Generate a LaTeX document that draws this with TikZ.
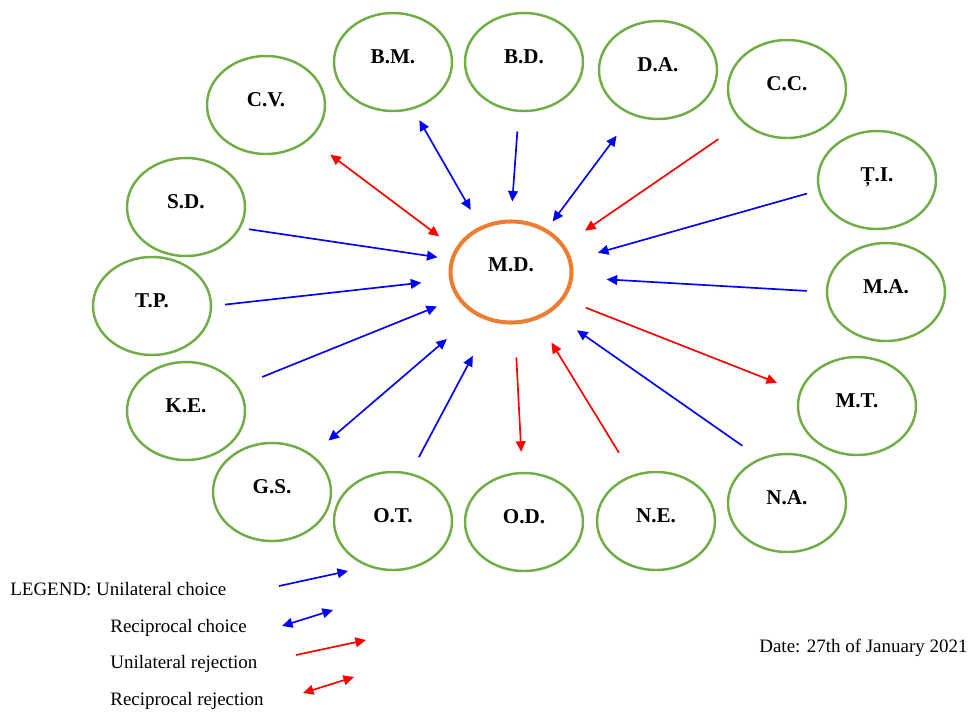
\documentclass[tikz,border=0pt]{standalone}
\usepackage{fontspec}
\setmainfont{Liberation Serif}
\usetikzlibrary{shapes.geometric, arrows.meta}
\definecolor{ringgreen}{RGB}{112,173,71}
\definecolor{ringorange}{RGB}{237,125,49}

\begin{document}
\begin{tikzpicture}[
		>={Triangle[length=6pt,width=5.5pt]},
		person/.style={ellipse, draw=ringgreen, line width=1.4pt, minimum width=2.36cm, minimum height=1.96cm, text depth=2.2mm, font=\fontsize{12}{14}\selectfont\bfseries},
		focus/.style={ellipse, draw=ringorange, line width=2.3pt, minimum width=2.42cm, minimum height=2.02cm, text depth=2.8mm, font=\fontsize{12}{14}\selectfont\bfseries},
		uchoice/.style={->, blue, line width=0.95pt},
		rchoice/.style={<->, blue, line width=0.95pt},
		urejection/.style={->, red, line width=0.95pt},
		rrejection/.style={<->, red, line width=0.95pt},
		legendtext/.style={anchor=base west, inner sep=0pt, font=\fontsize{10.8}{13}\selectfont}
		]
		
		\useasboundingbox (-10.22,-8.78) rectangle (9.14,5.44);
		
		% ==========================================
		% The subject in the middle
		% ==========================================
		\node (md) [focus] at (0,0) {M.D.};
		
		% ==========================================
		% The group around the subject
		% ==========================================
		\node (bm) [person] at (-2.36,4.20) {B.M.};
		\node (bd) [person] at (0.26,4.20) {B.D.};
		\node (da) [person] at (2.94,4.04) {D.A.};
		\node (cc) [person] at (5.52,3.66) {C.C.};
		\node (cv) [person] at (-4.90,3.34) {C.V.};
		\node (ti) [person] at (7.32,1.84) {Ț.I.};
		\node (sd) [person] at (-6.50,1.30) {S.D.};
		\node (ma) [person] at (7.50,-0.40) {M.A.};
		\node (tp) [person] at (-7.18,-0.68) {T.P.};
		\node (mt) [person] at (6.92,-2.68) {M.T.};
		\node (ke) [person] at (-6.50,-2.78) {K.E.};
		\node (na) [person] at (5.52,-4.62) {N.A.};
		\node (gs) [person] at (-4.78,-4.40) {G.S.};
		\node (ot) [person] at (-2.36,-4.98) {O.T.};
		\node (od) [person] at (0.26,-5.00) {O.D.};
		\node (ne) [person] at (2.90,-4.98) {N.E.};
		
		% ==========================================
		% Choices and rejections
		% ==========================================
		\draw[uchoice, shorten <=0.39cm, shorten >=0.36cm] (bd.-96) -- (md.90);
		\draw[rchoice, shorten <=0.25cm, shorten >=0.38cm] (bm.-67.5) -- (md.124.3);
		\draw[rchoice, shorten <=0.51cm, shorten >=0.19cm] (da.-120.6) -- (md.50.1);
		\draw[urejection, shorten <=0.58cm, shorten >=0.50cm] (cc.-143.3) -- (md.27.8);
		\draw[uchoice, shorten <=0.23cm, shorten >=0.54cm] (ti.-170.1) -- (md.11.2);
		\draw[uchoice, shorten <=0.38cm, shorten >=0.67cm] (ma.180) -- (md.-5.5);
		\draw[urejection, shorten <=0.46cm, shorten >=0.48cm] (md.-27.8) -- (mt.166);
		\draw[uchoice, shorten <=0.43cm, shorten >=0.63cm] (na.121.5) -- (md.-45.5);
		\draw[urejection, shorten <=0.52cm, shorten >=0.54cm] (ne.117.9) -- (md.-61.5);
		\draw[urejection, shorten <=0.66cm, shorten >=0.40cm] (md.-86.6) -- (od.92.5);
		\draw[uchoice, shorten <=0.36cm, shorten >=0.77cm] (ot.70.2) -- (md.-112);
		\draw[rchoice, shorten <=0.43cm, shorten >=0.74cm] (gs.43.9) -- (md.-130.1);
		\draw[uchoice, shorten <=0.51cm, shorten >=0.43cm] (ke.25.9) -- (md.-154.1);
		\draw[uchoice, shorten <=0.26cm, shorten >=0.56cm] (tp.0) -- (md.-173.5);
		\draw[uchoice, shorten <=0.17cm, shorten >=0.26cm] (sd.-21.5) -- (md.168.2);
		\draw[rrejection, shorten <=0.51cm, shorten >=0.40cm] (cv.-38.9) -- (md.157);
		
		% ==========================================
		% Legend and date
		% ==========================================
		\node (leg1) [legendtext] at (-10.02,-6.46) {LEGEND: Unilateral choice};
		\node (leg2) [legendtext] at (-8.02,-7.20) {Reciprocal choice};
		\node (leg3) [legendtext] at (-8.02,-7.92) {Unilateral rejection};
		\node (leg4) [legendtext] at (-8.02,-8.66) {Reciprocal rejection};
		\node (date) [legendtext] at (4.96,-7.60) {Date: 27th of January 2021};
		
		\coordinate (uc1) at (-4.64,-6.28);
		\coordinate (uc2) at (-3.26,-5.98);
		\coordinate (rc1) at (-4.58,-7.08);
		\coordinate (rc2) at (-3.56,-6.76);
		\coordinate (ur1) at (-4.30,-7.66);
		\coordinate (ur2) at (-2.90,-7.36);
		\coordinate (rr1) at (-4.16,-8.42);
		\coordinate (rr2) at (-3.14,-8.10);
		\draw[uchoice] (uc1) -- (uc2);
		\draw[rchoice] (rc1) -- (rc2);
		\draw[urejection] (ur1) -- (ur2);
		\draw[rrejection] (rr1) -- (rr2);
		
	\end{tikzpicture}
\end{document}
